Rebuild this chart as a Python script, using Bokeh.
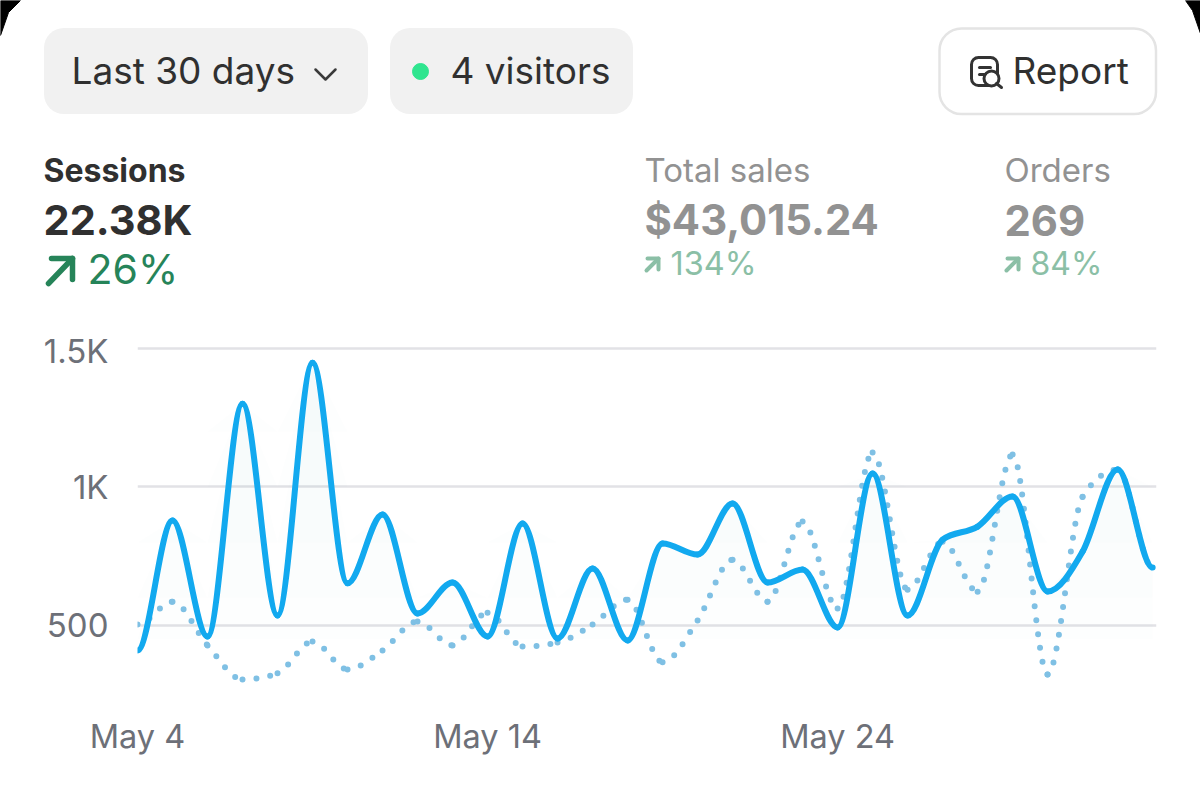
from bokeh.core.properties import value
from bokeh.embed import file_html
from bokeh.layouts import column
from bokeh.models import ColumnDataSource, FixedTicker, Range1d
from bokeh.plotting import figure
from bokeh.resources import INLINE
import numpy as np

# one value per day from May 4
days = list(range(30))
sessions = [410, 879, 460, 1301, 536, 1449, 652, 901, 543, 655,
            460, 868, 453, 706, 446, 796, 756, 940, 655, 702,
            493, 1049, 536, 810, 857, 966, 623, 767, 1063, 709]
previous = [503, 586, 428, 305, 327, 442, 341, 410, 514, 428,
            546, 424, 438, 503, 593, 367, 518, 737, 586, 875,
            561, 1125, 629, 802, 622, 1117, 323, 965, 1063, 709]

x_ticks = [0, 10, 20]
x_labels = ["May 4", "May 14", "May 24"]
y_ticks = [500, 1000, 1500]
y_labels = ["500", "1K", "1.5K"]
fill_levels = [450, 600, 800, 1000, 1200]

FONT = "Inter"
DARK = "#303030"
GREY = "#929292"
GREEN = "#268459"
PALE_GREEN = "#8bbfa6"


def monotone_segments(xs, ys):
    # control points for a monotone curve through the daily values, flat at both ends
    x = np.array(xs, dtype=float)
    y = np.array(ys, dtype=float)
    s = np.diff(y) / np.diff(x)
    t = np.zeros(len(y))
    p = (s[:-1] + s[1:]) / 2
    t[1:-1] = (np.sign(s[:-1]) + np.sign(s[1:])) * np.minimum.reduce(
        [np.abs(s[:-1]), np.abs(s[1:]), 0.5 * np.abs(p)])
    return ColumnDataSource(data=dict(
        x0=x[:-1], y0=y[:-1], x1=x[1:], y1=y[1:],
        cx0=x[:-1] + 1 / 3, cy0=y[:-1] + t[:-1] / 3,
        cx1=x[1:] - 1 / 3, cy1=y[1:] - t[1:] / 3,
    ))


# header uses page pixels as its coordinates
header = figure(width=1200, height=330, output_backend="svg", toolbar_location=None,
                x_range=Range1d(0, 1200), y_range=Range1d(330, 0),
                min_border=0, outline_line_color=None)
header.axis.visible = False
header.grid.visible = False

header.patch([0, 0, 8, 20], [0, 35, 12, 0], color="black")
header.patch([1200, 1200, 1192, 1185], [0, 33, 10, 0], color="black")

header.quad(left=[43.5, 389.5], right=[367.5, 632.5], top=[27.5, 27.5], bottom=[113.5, 113.5],
            fill_color="#f1f1f1", line_color=None, border_radius=20)
header.quad(left=[939], right=[1155.5], top=[28], bottom=[113.5], fill_color="white",
            line_color="#e4e4e4", line_width=2.5, border_radius=22)
header.scatter([420], [71], size=16, color="#2fe58f")
header.line([315, 325, 335], [69, 79, 69], line_color="#3a3a3a", line_width=2.5, line_cap="round", line_join="round")

# report icon
header.quad(left=[971], right=[997], top=[57], bottom=[85], fill_color="white",
            line_color="#333333", line_width=3, border_radius=7)
header.multi_line([[979, 990], [979, 984]], [[67, 67], [74, 74]], line_color="#333333", line_width=3, line_cap="round")
header.scatter([991], [78], size=15, fill_color="white", line_color="#333333", line_width=3)
header.line([996, 1001], [83, 87], line_color="#333333", line_width=3, line_cap="round")


def put(x, baseline, text, size, color, style="normal"):
    # the svg text ends up centred on its y, so move it up to land on the baseline
    header.text([x - 1], [baseline - 0.37 * size], text=[text], text_font=value(FONT), text_font_size=f"{size}px",
                text_color=color, text_font_style=style, text_baseline="alphabetic")


def arrow(x0, y0, x1, y1, head, color, width):
    header.multi_line([[x0, x1], [x1 - head, x1, x1]], [[y0, y1], [y1, y1, y1 + head]],
                      line_color=color, line_width=width, line_cap="round", line_join="round")


put(72, 84, "Last 30 days", 37, DARK)
put(451, 84, "4 visitors", 37, DARK)
put(1013, 84, "Report", 37, DARK)

put(44, 182, "Sessions", 32, DARK, "bold")
put(44, 235, "22.38K", 41.5, DARK, "bold")
put(88, 284, "26%", 41, GREEN)
arrow(48, 283, 72, 258, 21, GREEN, 5.5)

put(645, 182, "Total sales", 33, GREY)
put(645, 235, "$43,015.24", 41.8, GREY, "bold")
put(671, 275, "134%", 32.5, PALE_GREEN)
arrow(646, 270, 658, 258, 11, PALE_GREEN, 4)

put(1005, 182, "Orders", 33, GREY)
put(1005, 235, "269", 41.8, GREY, "bold")
put(1031, 275, "84%", 32, PALE_GREEN)
arrow(1006, 270, 1018, 258, 11, PALE_GREEN, 4)

# chart, the grid runs a little past the last day
p = figure(width=1200, height=463, output_backend="svg", toolbar_location=None,
           x_range=Range1d(days[0], 29.11), y_range=Range1d(229, 1529),
           min_border_left=137, min_border_right=44, min_border_top=10, min_border_bottom=93,
           outline_line_color=None)

for level in fill_levels:
    p.varea(x=days, y1=[level] * len(days), y2=np.maximum(sessions, level),
            fill_color="#2a6fb0", fill_alpha=0.008)

p.xgrid.visible = False
p.ygrid.ticker = FixedTicker(ticks=y_ticks)
p.ygrid.grid_line_color = "#e2e2e6"
p.ygrid.grid_line_width = 2.5

p.xaxis.ticker = FixedTicker(ticks=x_ticks)
p.xaxis.major_label_overrides = dict(zip(x_ticks, x_labels))
p.yaxis.ticker = FixedTicker(ticks=y_ticks)
p.yaxis.major_label_overrides = dict(zip(y_ticks, y_labels))
for ax in (p.xaxis, p.yaxis):
    ax.axis_line_color = None
    ax.major_tick_line_color = None
    ax.minor_tick_line_color = None
    ax.major_label_text_font = FONT
    ax.major_label_text_color = "#6d7078"
p.xaxis.major_label_text_font_size = "32.5px"
p.yaxis.major_label_text_font_size = "33px"
p.xaxis.major_label_standoff = 10
p.yaxis.major_label_standoff = 23

dotted = p.bezier("x0", "y0", "x1", "y1", "cx0", "cy0", "cx1", "cy1", source=monotone_segments(days, previous),
                  line_color="#7fc0e4", line_width=6, line_cap="round")
dotted.glyph.line_dash = [0, 14]
p.bezier("x0", "y0", "x1", "y1", "cx0", "cy0", "cx1", "cy1", source=monotone_segments(days, sessions),
         line_color="#12a9ef", line_width=6, line_cap="round")

# nested so the two frames are not aligned with each other
layout = column(column(header), column(p), spacing=0)
open("out.html", "w").write(file_html(layout, INLINE))
